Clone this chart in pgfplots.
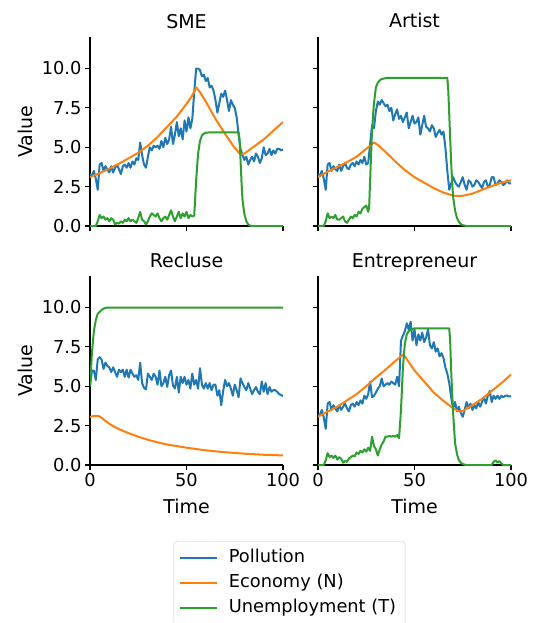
\documentclass[border=0pt]{standalone}
\usepackage{fontspec}
\setmainfont{DejaVu Sans}
\usepackage{pgfplots}
\pgfplotsset{compat=1.18}
\definecolor{cBlue}{HTML}{1F77B4}
\definecolor{cOrange}{HTML}{FF7F0E}
\definecolor{cGreen}{HTML}{2CA02C}
\newcommand{\fs}{\fontsize{17.8}{21}\selectfont}
\newcommand{\fl}{\fontsize{19}{22}\selectfont}

\pgfplotsset{
  every axis title shift=0pt,
  panel/.style={
    width=193pt, height=189pt, scale only axis,
    xmin=0, xmax=100, ymin=0, ymax=12,
    axis x line*=bottom, axis y line*=left,
    xtick={0,50,100}, ytick={0,2.5,5,7.5,10},
    tick align=outside, major tick length=5pt,
    axis line style={line width=1.1pt, black},
    tick style={line width=1.1pt, black},
    ticklabel style={font=\fs},
    yticklabel style={/pgf/number format/.cd, fixed, fixed zerofill, precision=1},
    /pgf/number format/assume math mode=true,
    title style={font=\fl, anchor=base, at={(0.5,1)}, yshift=9pt},
    label style={font=\fl},
    xlabel style={at={(axis description cs:0.5,0)}, anchor=base, yshift=-48pt},
    ylabel style={at={(axis description cs:-0.3005,0.5)}, anchor=base},
    every axis plot/.append style={line width=2pt, line join=round, no marks},
  },
  pol/.style={cBlue},
  eco/.style={cOrange},
  une/.style={cGreen},
}

\begin{document}
\begin{tikzpicture}
\useasboundingbox (0,0) rectangle (534pt,-623pt);

% ---------------- SME ----------------
\begin{axis}[panel, at={(90pt,-226pt)}, title={SME}, ylabel={Value}, xticklabels={},
  legend style={at={(1.0337,-1.667)}, anchor=north, draw=black!20, rounded corners=3pt,
    font=\fs, inner xsep=5pt, inner ysep=7pt, row sep=4.9pt,
    nodes={inner ysep=1pt, inner xsep=4pt, text height=13.3pt, text depth=4.8pt}},
  legend cell align=left,
  legend image code/.code={\draw[#1] (0pt,0pt) -- (37pt,0pt); \path (44pt,0pt);}]
\addplot[pol] coordinates {
(0,3.3) (1,3.2) (2,3.5) (3,3.0) (4,2.3) (5,3.9) (6,4.0) (7,3.5) (8,3.8) (9,3.6)
(10,3.4) (11,3.8) (12,3.4) (13,3.7) (14,3.9) (15,3.6) (16,3.3) (17,3.8) (18,3.9) (19,3.7)
(20,4.0) (21,3.7) (22,4.1) (23,3.9) (24,4.3) (25,4.2) (26,5.3) (27,4.5) (28,3.9) (29,3.7)
(30,4.4) (31,5.0) (32,4.8) (33,5.1) (34,5.0) (35,5.1) (36,4.9) (37,5.4) (38,5.0) (39,5.6)
(40,5.2) (41,5.5) (42,6.3) (43,5.2) (44,5.8) (45,6.6) (46,5.7) (47,6.2) (48,5.5) (49,6.7)
(50,6.0) (51,6.9) (52,6.2) (53,6.8) (54,8.5) (55,10.0) (56,10.0) (57,9.9) (58,9.5) (59,9.6)
(60,9.2) (61,9.4) (62,8.8) (63,8.9) (64,8.6) (65,8.0) (66,7.2) (67,7.8) (68,8.4) (69,8.2)
(70,8.6) (71,8.0) (72,7.3) (73,8.0) (74,7.7) (75,7.5) (76,6.9) (77,5.8) (78,4.9) (79,4.5)
(80,4.2) (81,4.4) (82,3.9) (83,4.2) (84,4.4) (85,4.1) (86,4.6) (87,4.4) (88,4.0) (89,4.3)
(90,5.0) (91,4.5) (92,4.6) (93,4.9) (94,4.5) (95,4.8) (96,4.6) (97,4.9) (98,4.9) (99,4.8) (100,4.85)};
\addlegendentry{Pollution}
\addplot[eco] coordinates {
(0,3.1) (5,3.35) (10,3.65) (15,3.95) (20,4.3) (25,4.65) (30,5.1) (35,5.65) (40,6.3)
(45,6.95) (50,7.75) (53,8.3) (55,8.8) (57,8.5) (60,7.9) (65,6.8) (70,5.85) (75,4.95)
(78,4.55) (80,4.6) (85,5.05) (90,5.5) (95,6.05) (100,6.6)};
\addlegendentry{Economy (N)}
\addplot[une] coordinates {
(0,0) (3,0) (4,0.3) (5,0.7) (6,0.5) (7,0.6) (8,0.4) (9,0.5) (10,0.3) (11,0.5) (12,0.4)
(13,0.1) (14,0.2) (15,0.15) (16,0.3) (17,0.2) (18,0.4) (19,0.3) (20,0.5) (21,0.3) (22,0.4)
(23,0.3) (24,0.2) (25,0.5) (26,0.9) (27,0.4) (28,0.3) (29,0.1) (30,0.3) (31,0.6) (32,0.8)
(33,0.7) (34,0.6) (35,0.8) (36,0.5) (37,0.3) (38,0.5) (39,0.6) (40,0.4) (41,0.7) (42,1.0)
(43,0.6) (44,0.3) (45,0.6) (46,0.9) (47,0.5) (48,0.8) (49,0.6) (50,0.9) (51,0.5) (52,0.7)
(53,0.6) (54,0.65) (55,2.9) (56,4.6) (57,5.4) (58,5.75) (59,5.87) (60,5.92) (62,5.95)
(77,5.95) (77.5,5.5) (78,4.2) (78.5,2.8) (79,1.7) (80,0.75) (81,0.3) (82,0.1) (83,0.02) (84,0) (100,0)};
\addlegendentry{Unemployment (T)}
\end{axis}

% ---------------- Artist ----------------
\begin{axis}[panel, at={(318pt,-226pt)}, title={Artist}, xticklabels={}, yticklabels={}]
\addplot[pol] coordinates {
(0,3.3) (1,3.2) (2,3.5) (3,3.0) (4,2.3) (5,3.9) (6,4.0) (7,3.5) (8,3.8) (9,3.6)
(10,3.5) (11,3.9) (12,3.5) (13,3.8) (14,4.0) (15,3.7) (16,3.6) (17,3.9) (18,4.0) (19,3.8)
(20,4.1) (21,3.9) (22,4.2) (23,4.0) (24,4.4) (25,3.9) (26,4.0) (27,5.2) (28,6.4) (29,6.2)
(30,7.3) (31,7.9) (32,7.7) (33,8.0) (34,7.8) (35,7.6) (36,7.7) (37,7.3) (38,7.5) (39,6.7)
(40,7.1) (41,7.4) (42,6.8) (43,7.0) (44,6.6) (45,6.9) (46,7.2) (47,6.2) (48,6.6) (49,7.0)
(50,6.5) (51,6.6) (52,6.9) (53,5.8) (54,6.4) (55,7.0) (56,6.3) (57,6.2) (58,6.0) (59,6.4)
(60,6.2) (61,5.65) (62,5.9) (63,6.1) (64,5.8) (65,6.0) (66,5.0) (67,3.5) (68,2.3) (69,2.7)
(70,3.1) (71,2.8) (72,2.6) (73,2.5) (74,2.8) (75,3.1) (76,2.6) (77,2.3) (78,2.9) (79,2.8)
(80,2.5) (81,2.6) (82,2.9) (83,2.8) (84,2.6) (85,2.4) (86,2.8) (87,2.9) (88,2.5) (89,2.6)
(90,3.1) (91,3.1) (92,2.6) (93,2.7) (94,2.9) (95,2.8) (96,2.6) (97,2.7) (98,2.9) (99,2.7) (100,2.7)};
\addplot[eco] coordinates {
(0,3.1) (5,3.45) (10,3.75) (15,4.05) (20,4.4) (25,4.9) (28,5.2) (29,5.3) (31,5.15) (35,4.7)
(40,4.1) (45,3.55) (50,3.1) (55,2.75) (60,2.4) (65,2.12) (70,1.93) (73,1.9) (75,1.92)
(80,2.05) (85,2.3) (90,2.53) (95,2.75) (100,2.9)};
\addplot[une] coordinates {
(0,0) (3,0) (4,0.3) (5,0.8) (6,0.5) (7,0.6) (8,0.5) (9,0.7) (10,0.4) (11,0.4) (12,0.5)
(13,0.6) (14,0.3) (15,0.2) (16,0.4) (17,0.6) (18,0.5) (19,0.7) (20,0.6) (21,0.9) (22,0.8)
(23,1.1) (24,1.2) (25,1.3) (26,0.9) (26.5,1.2) (27,2.9) (28,6.1) (29,7.8) (30,8.8) (31,9.1)
(32,9.25) (33,9.33) (35,9.39) (37,9.41) (67,9.41) (67.5,8.6) (68,7.1) (68.5,5.5) (69,4.0)
(69.5,2.8) (70,1.86) (71,1.0) (72,0.5) (73,0.27) (74,0.12) (75,0.05) (77,0) (100,0)};
\end{axis}

% ---------------- Recluse ----------------
\begin{axis}[panel, at={(90pt,-465pt)}, title={Recluse}, ylabel={Value}, xlabel={Time}]
\addplot[pol] coordinates {
(0,5.0) (1,6.0) (2,6.0) (3,5.4) (4,6.7) (5,6.85) (6,6.7) (7,6.1) (8,6.5) (9,6.3)
(10,6.2) (11,5.9) (12,6.2) (13,5.9) (14,5.6) (15,6.05) (16,5.9) (17,6.05) (18,5.6) (19,6.05)
(20,5.55) (21,6.05) (22,5.8) (23,5.6) (24,5.7) (25,5.4) (26,6.5) (27,5.2) (28,4.9) (29,4.8)
(30,5.8) (31,5.6) (32,5.4) (33,5.8) (34,5.6) (35,5.1) (36,6.0) (37,5.0) (38,5.2) (39,5.6)
(40,4.96) (41,5.7) (42,6.0) (43,5.05) (44,4.85) (45,5.6) (46,4.6) (47,5.6) (48,5.2) (49,5.6)
(50,5.1) (51,5.4) (52,4.85) (53,5.8) (54,5.1) (55,5.4) (56,4.85) (57,6.15) (58,5.1) (59,4.85)
(60,5.2) (61,4.85) (62,5.2) (63,4.75) (64,5.1) (65,5.1) (66,4.4) (67,4.75) (68,3.8) (69,4.7)
(70,5.4) (71,5.0) (72,5.2) (73,4.85) (74,4.4) (75,5.1) (76,4.75) (77,4.3) (78,5.5) (79,5.2)
(80,4.95) (81,4.75) (82,5.2) (83,4.85) (84,4.5) (85,4.75) (86,4.95) (87,4.65) (88,4.5) (89,5.3)
(90,4.65) (91,5.2) (92,4.5) (93,4.95) (94,4.65) (95,4.75) (96,4.75) (97,4.65) (98,4.5) (99,4.45) (100,4.37)};
\addplot[eco] coordinates {
(0,3.05) (2,3.12) (4,3.12) (5,3.08) (6,3.0) (7,2.9) (8,2.8) (10,2.62) (12,2.47) (15,2.28)
(20,2.02) (25,1.8) (30,1.6) (35,1.44) (40,1.3) (50,1.1) (60,0.93) (70,0.81) (80,0.72)
(90,0.65) (100,0.61)};
\addplot[une] coordinates {
(0,5.0) (1,7.1) (2,8.5) (3,9.2) (4,9.6) (6,9.85) (8,9.98) (10,10.0) (100,10.0)};
\end{axis}

% ---------------- Entrepreneur ----------------
\begin{axis}[panel, at={(318pt,-465pt)}, title={Entrepreneur}, xlabel={Time}, yticklabels={}]
\addplot[pol] coordinates {
(0,3.2) (1,3.2) (2,3.5) (3,3.0) (4,2.3) (5,3.9) (6,4.0) (7,3.5) (8,3.8) (9,3.6)
(10,3.4) (11,3.8) (12,3.5) (13,3.7) (14,3.9) (15,3.6) (16,3.4) (17,3.8) (18,3.9) (19,3.7)
(20,4.0) (21,3.8) (22,4.1) (23,3.9) (24,4.4) (25,4.2) (26,4.5) (27,5.3) (28,4.3) (29,4.4)
(30,4.6) (31,4.85) (32,5.0) (33,5.5) (34,5.0) (35,5.1) (36,5.2) (37,5.1) (38,5.3) (39,5.2)
(40,5.1) (41,5.6) (42,5.0) (43,7.9) (44,8.2) (45,8.5) (46,9.0) (47,8.6) (48,9.1) (49,7.9)
(50,8.6) (51,7.6) (52,8.3) (53,7.9) (54,8.4) (55,7.8) (56,8.1) (57,8.6) (58,7.6) (59,7.4)
(60,7.8) (61,7.2) (62,7.4) (63,6.9) (64,7.1) (65,6.8) (66,6.2) (67,5.8) (68,5.2) (69,4.3)
(70,3.6) (71,4.0) (72,3.4) (73,3.7) (74,3.3) (75,3.06) (76,3.5) (77,4.0) (78,3.6) (79,3.9)
(80,3.5) (81,3.8) (82,3.6) (83,4.0) (84,3.7) (85,4.0) (86,4.3) (87,3.9) (88,4.4) (89,4.7)
(90,4.0) (91,4.4) (92,4.2) (93,4.4) (94,4.2) (95,4.4) (96,4.3) (97,4.4) (98,4.4) (99,4.35) (100,4.37)};
\addplot[eco] coordinates {
(0,3.06) (5,3.4) (10,3.7) (15,4.1) (20,4.5) (25,5.0) (30,5.55) (35,6.05) (40,6.6) (44,7.0)
(45,6.9) (50,6.0) (55,5.3) (60,4.6) (65,4.07) (70,3.6) (73,3.4) (75,3.42) (80,3.8) (85,4.2)
(90,4.7) (95,5.2) (100,5.74)};
\addplot[une] coordinates {
(0,0) (3,0) (4,0.3) (5,0.75) (6,0.5) (7,0.6) (8,0.45) (9,0.6) (10,0.35) (11,0.5) (12,0.4)
(13,0.15) (14,0.25) (15,0.2) (16,0.4) (17,0.5) (18,0.6) (19,0.55) (20,0.8) (21,0.7) (22,0.9)
(23,0.8) (24,1.0) (25,0.85) (26,1.1) (27,0.9) (28,1.8) (29,1.2) (30,1.0) (31,0.6) (32,1.0)
(33,1.3) (34,1.5) (35,1.8) (36,1.8) (37,1.85) (38,1.8) (39,1.85) (40,1.8) (41,1.9) (42,1.7)
(43,3.5) (44,6.2) (45,7.7) (46,8.3) (47,8.5) (48,8.6) (50,8.67) (68,8.68) (68.5,7.8) (69,6.0)
(69.5,4.6) (70,3.3) (71,1.4) (72,0.7) (73,0.3) (74,0.15) (75,0.06) (76,0.02) (77,0) (90,0)
(91,0.2) (92,0.3) (93,0.15) (94,0.25) (95,0.1) (96,0) (100,0)};
\end{axis}
\end{tikzpicture}
\end{document}
